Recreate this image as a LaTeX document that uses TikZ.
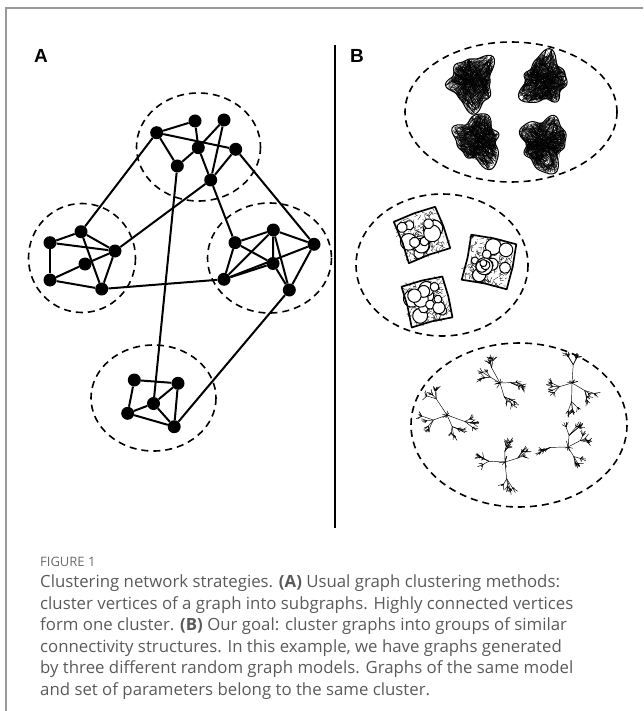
\documentclass[tikz,border=0pt]{standalone}
\usepackage{fontspec}
\newfontfamily\capfont{Open Sans}
\newfontfamily\labfont{Liberation Sans}
\definecolor{capgray}{HTML}{5A5A5A}
\definecolor{framegray}{HTML}{9A9A9A}
\tikzset{
  vtx/.style={circle,fill=black,inner sep=0pt,minimum size=13pt},
  edge/.style={line width=2pt},
  clus/.style={draw,line width=1.6pt,dash pattern=on 7pt off 5pt},
  meshline/.style={line width=0.22pt,black},
  foldline/.style={line width=0.8pt,black,line cap=round},
  twig/.style={line width=0.45pt,black},
  panellabel/.style={font=\labfont\bfseries\fontsize{19}{19}\selectfont,anchor=base west,inner sep=0pt}
}
\newcommand\meshblob[4]{%
  \begin{scope}[shift={(#1,#2)}]
  \pgfmathsetseed{#4}
  \pgfmathsetmacro\pa{360*rnd}\pgfmathsetmacro\pb{360*rnd}\pgfmathsetmacro\pc{360*rnd}\pgfmathsetmacro\pd{360*rnd}
  \def\bnd##1{#3*(0.76+0.10*sin(2*(##1)+\pd)+0.11*sin(3*(##1)+\pa)+0.09*sin(5*(##1)+\pb)+0.05*sin(8*(##1)+\pc))}
  \foreach \i in {1,...,340}{
    \pgfmathsetmacro\aa{360*rnd}
    \pgfmathsetmacro\ra{\bnd{\aa}*sqrt(rnd)}
    \pgfmathsetmacro\ab{360*rnd}
    \pgfmathsetmacro\rb{\bnd{\ab}*sqrt(rnd)}
    \draw[meshline] (\aa:\ra) -- (\ab:\rb);
  }
  \foreach \i in {1,...,240}{
    \pgfmathsetmacro\aa{360*rnd}
    \pgfmathsetmacro\ra{\bnd{\aa}*(0.5+0.5*sqrt(rnd))}
    \pgfmathsetmacro\ab{\aa+70*(rnd-0.5)}
    \pgfmathsetmacro\rb{\bnd{\ab}*(0.5+0.5*sqrt(rnd))}
    \draw[meshline] (\aa:\ra) -- (\ab:\rb);
  }
  \foreach \i in {1,...,55}{
    \pgfmathsetmacro\aa{360*rnd}
    \pgfmathsetmacro\ra{\bnd{\aa}*sqrt(rnd)}
    \pgfmathsetmacro\ab{\aa+50*(rnd-0.5)}
    \pgfmathsetmacro\rb{\bnd{\ab}*sqrt(rnd)}
    \draw[foldline] (\aa:\ra) -- (\ab:\rb);
  }
  \draw[line width=1pt] plot[smooth cycle,domain=0:355,samples=72] (\x:{\bnd{\x}});
  \end{scope}}
\newcommand\foamgraph[5]{%
  \begin{scope}[shift={(#1,#2)},rotate=#4]
  \pgfmathsetseed{#5}
  \foreach \i in {1,...,220}{
    \pgfmathsetmacro\px{#3*(1.9*rnd-0.95)}
    \pgfmathsetmacro\py{#3*(1.9*rnd-0.95)}
    \pgfmathsetmacro\qx{\px+10*(rnd-0.5)}
    \pgfmathsetmacro\qy{\py+10*(rnd-0.5)}
    \draw[line width=0.3pt] (\px,\py) -- (\qx,\qy);
  }
  \foreach \i in {1,...,14}{
    \pgfmathsetmacro\px{#3*(1.5*rnd-0.75)}
    \pgfmathsetmacro\py{#3*(1.5*rnd-0.75)}
    \pgfmathsetmacro\rr{3.5+5.5*rnd}
    \filldraw[fill=white,draw=black,line width=1pt] (\px,\py) circle[radius=\rr];
  }
  \draw[line width=1.7pt,line join=round]
    (-#3,-#3) -- (0,-1.05*#3) -- (#3,-#3) -- (1.05*#3,0) -- (#3,#3) -- (0,0.95*#3) -- (-#3,#3) -- (-0.95*#3,0) -- cycle;
  \end{scope}}
\newcommand\rtree[3]{%
  \begin{scope}[shift={(#1,#2)}]
  \pgfmathsetseed{#3}
  \foreach \h in {1,...,8}{\draw[twig] (0,0) -- ++({360*rnd}:{2+5*rnd});}
  \foreach \k in {1,...,4}{
    \pgfmathsetmacro\ta{\k*90+70*(rnd-0.5)}
    \pgfmathsetmacro\tl{10+10*rnd}
    \draw[twig] (0,0) -- ++(\ta:\tl) coordinate (tA);
    \foreach \m in {1,...,4}{
      \pgfmathsetmacro\tb{\ta+100*(rnd-0.5)}
      \pgfmathsetmacro\tm{4+9*rnd}
      \draw[twig] (tA) -- ++(\tb:\tm) coordinate (tB);
      \foreach \n in {1,...,6}{
        \pgfmathsetmacro\tc{\tb+120*(rnd-0.5)}
        \pgfmathsetmacro\tn{1.5+5*rnd}
        \draw[twig] (tB) -- ++(\tc:\tn);
      }
    }
  }
  \end{scope}}
\begin{document}
\begin{tikzpicture}[x=1pt,y=-1pt]
\useasboundingbox (0,0) rectangle (643,711);
% frame
\draw[framegray,line width=1.5pt] (6,711) -- (6,8) -- (643,8);
% labels and divider
\node[panellabel] (labA) at (34,63) {A};
\node[panellabel] (labB) at (350,63) {B};
\draw[line width=1.6pt] (335,45) -- (335,528);

% ---------- Panel A ----------
\draw[clus] (198.5,147) ellipse [x radius=62, y radius=54];
\draw[clus] (82,258) ellipse [x radius=53.5, y radius=54.5];
\draw[clus] (269.5,258) ellipse [x radius=62, y radius=55];
\draw[clus] (153.5,398) ellipse [x radius=62.5, y radius=53];

\node[vtx] (t1) at (156.7,132.7) {};
\node[vtx] (t2) at (195,121) {};
\node[vtx] (t3) at (224,120) {};
\node[vtx] (t4) at (198.3,147.7) {};
\node[vtx] (t5) at (235.7,149.3) {};
\node[vtx] (t6) at (177.3,166) {};
\node[vtx] (t7) at (210.7,180) {};

\node[vtx] (l1) at (50,242.7) {};
\node[vtx] (l2) at (81,231.7) {};
\node[vtx] (l3) at (115,251) {};
\node[vtx] (l4) at (85,264) {};
\node[vtx] (l5) at (50,280) {};
\node[vtx] (l6) at (101.7,289) {};

\node[vtx] (r1) at (235,242.7) {};
\node[vtx] (r2) at (273.3,230) {};
\node[vtx] (r3) at (314,244.3) {};
\node[vtx] (r4) at (273,263.5) {};
\node[vtx] (r5) at (224,279.3) {};
\node[vtx] (r6) at (289.3,290) {};

\node[vtx] (b1) at (134.3,380) {};
\node[vtx] (b2) at (178,383.3) {};
\node[vtx] (b3) at (153.5,403.5) {};
\node[vtx] (b4) at (127.7,413.3) {};
\node[vtx] (b5) at (174.2,426.7) {};

\foreach \a/\b in {t1/t2,t1/t5,t1/t6,t2/t4,t3/t4,t3/t7,t4/t6,t4/t7,t5/t7,
  l1/l2,l1/l3,l1/l5,l2/l3,l2/l6,l4/l3,l4/l5,l5/l6,l6/l3,
  r1/r2,r1/r4,r1/r5,r2/r3,r2/r4,r2/r5,r2/r6,r3/r6,r3/r5,r4/r5,r4/r6,
  b1/b2,b1/b4,b2/b3,b2/b5,b3/b4,b3/b5,b4/b5,
  t1/l2,t7/l3,t5/r3,t7/r1,t6/b3,l6/r5,r6/b5}
  \draw[edge] (\a) -- (\b);

% ---------- Panel B ----------
\draw[clus] (511,112) ellipse [x radius=106, y radius=70];
\draw[clus] (442,265) ellipse [x radius=86, y radius=71];
\draw[clus] (519,425) ellipse [x radius=108, y radius=82];

\meshblob{472}{82}{31}{11}
\meshblob{544}{80}{30}{23}
\meshblob{478}{140}{30}{37}
\meshblob{544}{143}{31}{41}

\foamgraph{422}{235}{22}{20}{5}
\foamgraph{489}{262}{23}{-12}{7}
\foamgraph{427}{302}{21}{14}{9}
\fill (472.7,236.7) circle[radius=1.2];

\rtree{500}{383}{101}
\rtree{572}{383}{202}
\rtree{447}{415}{303}
\rtree{505}{462}{404}
\rtree{568}{447}{505}

% ---------- Caption ----------
\node[anchor=base west,inner sep=0pt,text=capgray!90,font=\capfont\fontsize{13}{14}\selectfont] (fig) at (40,566) {FIGURE 1};
\node[anchor=north west,inner sep=0pt,text=capgray,align=left,
  font=\capfont\fontsize{16.8}{21.5}\selectfont] (cap) at (40,575)
{Clustering network strategies. \textbf{(A)} Usual graph clustering methods:\\
cluster vertices of a graph into subgraphs. Highly connected vertices\\
form one cluster. \textbf{(B)} Our goal: cluster graphs into groups of similar\\
connectivity structures. In this example, we have graphs generated\\
by three different random graph models. Graphs of the same model\\
and set of parameters belong to the same cluster.};
\end{tikzpicture}
\end{document}
